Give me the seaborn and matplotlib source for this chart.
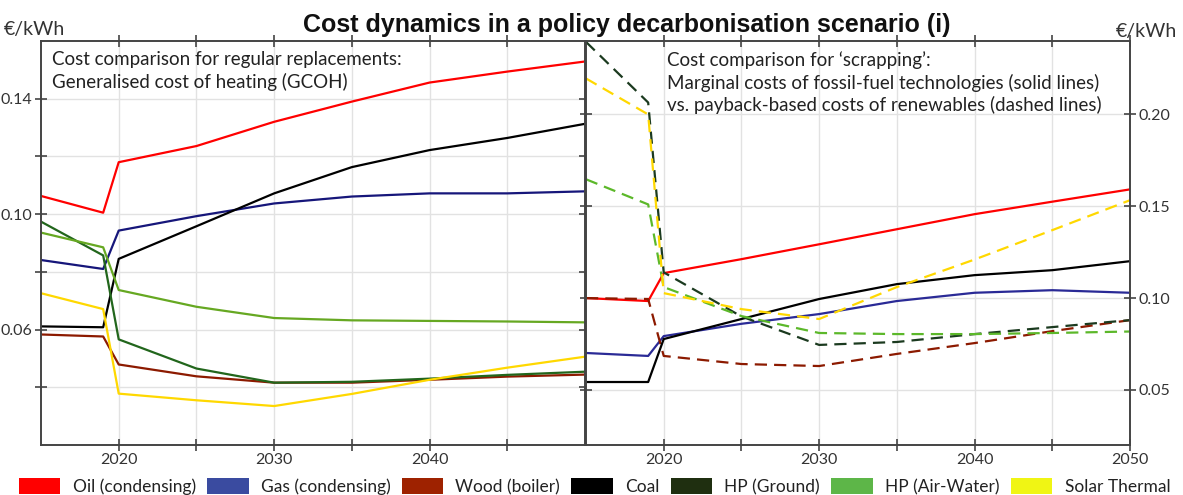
import numpy as np
import pandas as pd
import matplotlib
matplotlib.use("Agg")
import matplotlib.pyplot as plt
import seaborn as sns
from matplotlib.patches import Patch

# ---------------- data ----------------
years = [2015, 2019, 2020, 2025, 2030, 2035, 2040, 2045, 2050]
techs = ["Oil (condensing)", "Gas (condensing)", "Wood (boiler)", "Coal",
         "HP (Ground)", "HP (Air-Water)", "Solar Thermal"]

# Left panel: generalised cost of heating (EUR/kWh)
oil_gcoh = [0.1063, 0.1005, 0.1180, 0.1236, 0.1320, 0.1390, 0.1456, 0.1494, 0.1529]
gas_gcoh = [0.0841, 0.0810, 0.0943, 0.0993, 0.1037, 0.1061, 0.1072, 0.1072, 0.1079]
wood_gcoh = [0.0583, 0.0576, 0.0479, 0.0438, 0.0416, 0.0416, 0.0426, 0.0437, 0.0444]
coal_gcoh = [0.0611, 0.0608, 0.0845, 0.0958, 0.1072, 0.1163, 0.1222, 0.1264, 0.1313]
hpg_gcoh = [0.0974, 0.0857, 0.0566, 0.0465, 0.0416, 0.0419, 0.0430, 0.0443, 0.0454]
hpa_gcoh = [0.0936, 0.0885, 0.0737, 0.0679, 0.0640, 0.0632, 0.0630, 0.0628, 0.0625]
sol_gcoh = [0.0726, 0.0671, 0.0378, 0.0355, 0.0335, 0.0377, 0.0426, 0.0468, 0.0506]

# Right panel: marginal (fossil) vs payback-based (renewables) costs
oil_scrap = [0.1000, 0.0984, 0.1136, 0.1212, 0.1293, 0.1375, 0.1457, 0.1525, 0.1592]
gas_scrap = [0.0701, 0.0685, 0.0793, 0.0860, 0.0913, 0.0984, 0.1029, 0.1043, 0.1029]
wood_scrap = [0.1000, 0.0995, 0.0685, 0.0641, 0.0630, 0.0696, 0.0755, 0.0820, 0.0880]
coal_scrap = [0.0543, 0.0543, 0.0777, 0.0886, 0.0995, 0.1076, 0.1125, 0.1152, 0.1201]
hpg_scrap = [0.2395, 0.2065, 0.1140, 0.0900, 0.0745, 0.0761, 0.0804, 0.0842, 0.0880]
hpa_scrap = [0.1647, 0.1510, 0.1060, 0.0902, 0.0810, 0.0804, 0.0804, 0.0810, 0.0818]
sol_scrap = [0.2196, 0.2000, 0.1027, 0.0940, 0.0886, 0.1060, 0.1210, 0.1370, 0.1533]
scrap_kind = ["solid", "solid", "dashed", "solid", "dashed", "dashed", "dashed"]

left_ticks_x = [2020, 2025, 2030, 2035, 2040, 2045]
left_ticklabels_x = ["2020", "", "2030", "", "2040", ""]
right_ticks_x = [2020, 2025, 2030, 2035, 2040, 2045, 2050]
right_ticklabels_x = ["2020", "", "2030", "", "2040", "", "2050"]
left_ticks_y = [0.04, 0.06, 0.08, 0.10, 0.12, 0.14]
left_ticklabels_y = ["", "0.06", "", "0.10", "", "0.14"]
right_ticks_y = [0.05, 0.10, 0.15, 0.20]
right_ticklabels_y = ["0.05", "0.10", "0.15", "0.20"]

line_colors_left = ["#ff0000", "#16167a", "#8c1a00", "#000000", "#22661c", "#66a822", "#ffd800"]
line_colors_right = ["#ff0000", "#2a2a96", "#8c1a00", "#000000", "#1b3a1f", "#5cb82a", "#ffd800"]
legend_colors = ["#ff0000", "#3a4ba0", "#9e2200", "#000000", "#1f2f10", "#5db648", "#f0f514"]

# ---------------- frames ----------------
left_vals = [oil_gcoh, gas_gcoh, wood_gcoh, coal_gcoh, hpg_gcoh, hpa_gcoh, sol_gcoh]
right_vals = [oil_scrap, gas_scrap, wood_scrap, coal_scrap, hpg_scrap, hpa_scrap, sol_scrap]

df_left = pd.DataFrame([(t, y, v) for t, vals in zip(techs, left_vals) for y, v in zip(years, vals)],
                       columns=["tech", "year", "cost"])
df_right = pd.DataFrame([(t, k, y, v) for t, k, vals in zip(techs, scrap_kind, right_vals)
                         for y, v in zip(years, vals)],
                        columns=["tech", "kind", "year", "cost"])

# ---------------- figure ----------------
sns.set_theme(style="white")
plt.rcParams['font.family'] = ['Lato', 'DejaVu Sans']

W, H = 1183, 495
fig = plt.figure(figsize=(W / 100, H / 100), dpi=100)
axL = fig.add_axes([41 / W, 1 - 445 / H, 544 / W, 404 / H])
axR = fig.add_axes([586 / W, 1 - 445 / H, 544 / W, 404 / H])

sns.lineplot(data=df_left, x="year", y="cost", hue="tech", hue_order=techs,
             palette=dict(zip(techs, line_colors_left)), ax=axL, legend=False,
             errorbar=None, linewidth=1.6, sort=True)
sns.lineplot(data=df_right, x="year", y="cost", hue="tech", hue_order=techs,
             style="kind", style_order=["solid", "dashed"],
             dashes={"solid": "", "dashed": (5.5, 3.2)},
             palette=dict(zip(techs, line_colors_right)), ax=axR, legend=False,
             errorbar=None, linewidth=1.6, sort=True)

for ax in (axL, axR):
    ax.set_xlim(2015, 2050)
    ax.set_xlabel("")
    ax.set_ylabel("")
    ax.grid(True, color="#e2e2e2", linewidth=1.0)
    ax.set_axisbelow(True)
    for s in ax.spines.values():
        s.set_color("#444444")
        s.set_linewidth(1.4)
    ax.tick_params(axis="both", direction="inout", length=8, width=1.2, color="#444444",
                   labelsize=11.5, labelcolor="#333333", pad=2)

axL.set_ylim(0.02, 0.16)
axR.set_ylim(0.02, 0.24)

axL.set_xticks(left_ticks_x)
axL.set_xticklabels(left_ticklabels_x)
axL.set_yticks(left_ticks_y)
axL.set_yticklabels(left_ticklabels_y)
axL.tick_params(top=True, right=True, labeltop=False, labelright=False, bottom=True, left=True)

axR.set_xticks(right_ticks_x)
axR.set_xticklabels(right_ticklabels_x)
axR.set_yticks(right_ticks_y)
axR.set_yticklabels(right_ticklabels_y)
axR.yaxis.tick_right()
axR.tick_params(top=True, left=True, right=True, labelleft=False, labelright=True, bottom=True)

txt_kw = dict(fontsize=13.5, color="#222222", va="top", ha="left", linespacing=1.3)
axL.text(0.02, 0.975, "Cost comparison for regular replacements:\nGeneralised cost of heating (GCOH)",
         transform=axL.transAxes, **txt_kw)
axR.text(0.149, 0.975,
         "Cost comparison for \u2018scrapping\u2019:\nMarginal costs of fossil-fuel technologies (solid lines)\n"
         "vs. payback-based costs of renewables (dashed lines)",
         transform=axR.transAxes, **txt_kw)

fig.text(627 / W, 1 - 25 / H, "Cost dynamics in a policy decarbonisation scenario (i)",
         ha="center", va="center", fontsize=18, fontweight="bold",
         family=["Liberation Sans", "DejaVu Sans"], color="#111111")
fig.text(4 / W, 1 - 29 / H, "\u20ac/kWh", ha="left", va="center", fontsize=14, color="#333333")
fig.text(1177 / W, 1 - 32 / H, "\u20ac/kWh", ha="right", va="center", fontsize=14, color="#333333")

handles = [Patch(facecolor=c, edgecolor="none") for c in legend_colors]
fig.legend(handles, techs, loc="lower left", ncol=7, mode="expand",
           bbox_to_anchor=(0.01, -0.014, 0.985, 0.05), frameon=False,
           handlelength=2.4, handleheight=1.05, handletextpad=0.7,
           fontsize=12.5, labelcolor="#222222", borderaxespad=0.0)

fig.savefig("out.png", dpi=100)
